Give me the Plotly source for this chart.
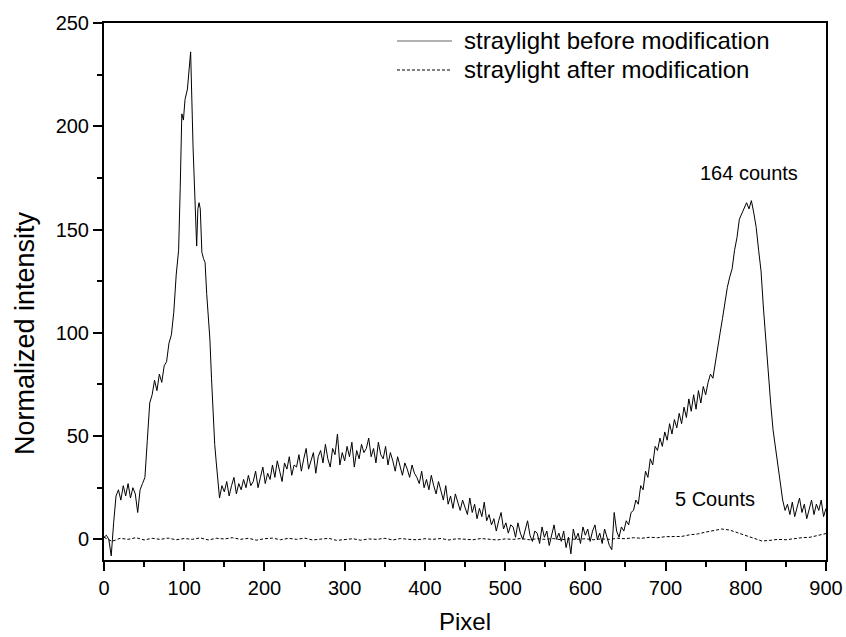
import plotly.graph_objects as go

# ---- data ----
# left part (irregular sampling around the first peak)
pixel_left = [0, 3, 6, 9, 12, 15, 18, 21, 24, 27, 30, 33, 36, 39, 42, 45, 48, 51, 54, 57,
              60, 63, 66, 69, 72, 75, 78, 81, 84, 87, 90, 93, 95, 97, 99, 101, 104, 106, 108, 111,
              114, 115.5, 117, 118.5, 120, 122, 124, 126, 128, 130, 132, 134, 136, 138, 140, 142, 144, 147]
intensity_left = [1, 2, 0, -8, 8, 21, 24, 19, 26, 21, 27, 20, 25, 22, 13, 24, 27, 30, 48, 66,
                  70, 77, 72, 80, 76, 84, 86, 95, 99, 110, 128, 140, 170, 206, 203, 213, 218, 228, 236, 190,
                  150, 142, 160, 163, 160, 139, 136, 134, 119, 108, 97, 78, 58, 46, 37, 28, 20, 26]

# middle/right part, every 3 pixels from 150 to 852
pixel_mid = list(range(150, 853, 3))
intensity_mid = [
    23, 28, 21, 26, 30, 22, 27, 24, 29, 25,      # 150-177
    31, 26, 28, 33, 25, 30, 35, 27, 32, 29,      # 180-207
    36, 30, 38, 33, 28, 37, 34, 40, 31, 36,      # 210-237
    35, 41, 33, 39, 44, 34, 38, 42, 32, 40,      # 240-267
    43, 37, 46, 39, 35, 44, 41, 51, 36, 42,      # 270-297
    38, 45, 40, 47, 35, 43, 39, 46, 42, 44,      # 300-327
    49, 40, 44, 37, 47, 41, 39, 45, 36, 42,      # 330-357
    38, 33, 40, 35, 31, 37, 34, 30, 36, 32,      # 360-387
    30, 27, 33, 25, 29, 24, 31, 26, 22, 28,      # 390-417
    24, 19, 26, 17, 21, 15, 22, 18, 14, 19,      # 420-447
    16, 12, 20, 13, 17, 10, 15, 11, 18, 9,       # 450-477
    12, 7, 10, 4, 9, 13, 5, 8, 3, 7,             # 480-507
    6, 1, 8, 3, 0, 5, 9, 2, -1, 4,               # 510-537
    3, -2, 6, 1, 4, -3, 2, 7, 0, 3,              # 540-567
    -1, 4, -4, 1, -7, 5, 0, 3, -2, 6,            # 570-597
    2, 5, -1, 4, 7, 0, 3, -2, 5, 1,              # 600-627
    -3, -5, 13, 4, 1, 6, 4, 9, 7, 13,            # 630-657
    14, 19, 17, 26, 24, 33, 30, 39, 36, 45,      # 660-687
    43, 49, 45, 52, 48, 56, 51, 58, 54, 61,      # 690-717
    56, 64, 59, 68, 62, 70, 63, 72, 66, 74,      # 720-747
    70, 76, 80, 78, 86, 92, 100, 107, 115, 122,  # 750-777
    127, 131, 140, 146, 155, 158, 161, 163, 160, 164,  # 780-807
    158, 151, 140, 130, 112, 95, 80, 66, 53, 44,  # 810-837
    35, 26, 19, 14, 17,                          # 840-852
]

# right plateau
pixel_right = [855, 858, 861, 864, 867, 870, 873, 876, 879, 882, 885, 888, 891, 894, 897, 900]
intensity_right = [12, 18, 11, 16, 20, 13, 17, 10, 15, 19, 12, 17, 14, 19, 11, 15]

pixel_after = list(range(0, 901, 10))
intensity_after = [1, -1, 0.5, 0, 0.8, -0.3, 0.5, 0, 0.6, -0.2,
                   0.4, 0, 0.7, -0.3, 0.5, 0.2, 0.8, 0, 0.5, -0.4,
                   0.3, 0.6, -0.2, 0.5, 0, 0.6, -0.3, 0.2, 0.5, -0.5,
                   -0.2, 0.3, -0.4, 0.2, 0, 0.5, -0.3, 0.4, 0, -0.2,
                   0.3, 0, 0.4, -0.3, 0.3, 0, -0.2, 0.4, 0, -0.3,
                   0.2, 0, 0.4, -0.2, 0.3, 0, 0.4, -0.2, 0.2, 0,
                   0.3, -0.2, 0.2, 0, 0.5, 0.3, 0.8, 0.5, 1, 0.8,
                   1.3, 1.5, 1.4, 2.2, 2.6, 3.5, 4.3, 5, 4.5, 3.2,
                   1.8, 0.5, -0.8, -0.5, 0, -0.2, 0.4, 0.8, 1, 2, 2.8]

x_ticks = [0, 100, 200, 300, 400, 500, 600, 700, 800, 900]
y_ticks = [0, 50, 100, 150, 200, 250]
legend_labels = ["straylight before modification", "straylight after modification"]
note_peak = "164 counts"
note_after = "5 Counts"

pixel_before = pixel_left + pixel_mid + pixel_right
intensity_before = intensity_left + intensity_mid + intensity_right
assert len(pixel_mid) == len(intensity_mid)
assert len(pixel_before) == len(intensity_before)
assert len(pixel_after) == len(intensity_after)

FONT = "Arial, 'Liberation Sans', Helvetica, sans-serif"

fig = go.Figure()
fig.add_trace(go.Scatter(x=pixel_before, y=intensity_before, mode="lines",
                         line=dict(color="black", width=1), name=legend_labels[0],
                         showlegend=False))
fig.add_trace(go.Scatter(x=pixel_after, y=intensity_after, mode="lines",
                         line=dict(color="black", width=1, dash="3px,2px"), name=legend_labels[1],
                         showlegend=False))

# manual legend (long sample lines like the reference)
leg_y = [0.9665, 0.9125]
for i, (lab, dash) in enumerate(zip(legend_labels, ["solid", "3px,2px"])):
    fig.add_shape(type="line", xref="paper", yref="paper", x0=0.4058, x1=0.482,
                  y0=leg_y[i], y1=leg_y[i],
                  line=dict(color="#666" if i == 0 else "black", width=1, dash=dash))
    fig.add_annotation(xref="paper", yref="paper", x=0.4958, y=leg_y[i], text=lab,
                       showarrow=False, xanchor="left", yanchor="middle",
                       font=dict(family=FONT, size=24, color="black"))

fig.add_annotation(x=804, y=177.5, text=note_peak, showarrow=False,
                   font=dict(family=FONT, size=20, color="black"))
fig.add_annotation(x=762, y=19.3, text=note_after, showarrow=False,
                   font=dict(family=FONT, size=20, color="black"))

# axis titles
fig.add_annotation(xref="paper", yref="paper", x=0.5, y=-0.114, text="Pixel",
                   showarrow=False, xanchor="center", yanchor="middle",
                   font=dict(family=FONT, size=24, color="black"))
fig.add_annotation(xref="paper", yref="paper", x=-0.1094, y=0.4227, text="Normalized intensity",
                   showarrow=False, xanchor="center", yanchor="middle", textangle=-90,
                   font=dict(family=FONT, size=27, color="black"))

axis_common = dict(showline=True, linecolor="black", linewidth=2, mirror=True,
                   ticks="outside", ticklen=9, tickwidth=1.5, tickcolor="black",
                   showgrid=False, zeroline=False, automargin=False,
                   tickfont=dict(family=FONT, size=20, color="black"))

fig.update_xaxes(range=[0, 900], tickvals=x_ticks, ticktext=[str(v) for v in x_ticks],
                 minor=dict(ticks="outside", ticklen=5, tickwidth=1.5, tickcolor="black", dtick=50),
                 **axis_common)
fig.update_yaxes(range=[-10, 250], tickvals=y_ticks, ticktext=[str(v) for v in y_ticks],
                 minor=dict(ticks="outside", ticklen=5, tickwidth=1.5, tickcolor="black", dtick=25),
                 **axis_common)

fig.update_layout(width=846, height=637, margin=dict(l=104, r=20, t=23, b=77),
                  plot_bgcolor="white", paper_bgcolor="white", showlegend=False)

fig.write_html("out.html")
